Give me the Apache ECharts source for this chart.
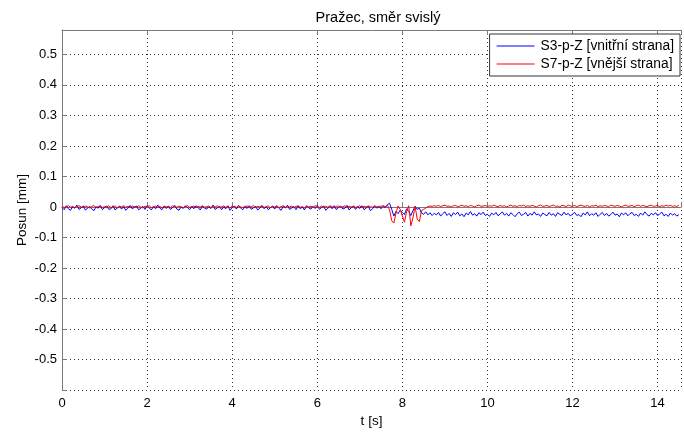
<!DOCTYPE html>
<html>
<head>
<meta charset="utf-8">
<script src="https://cdn.jsdelivr.net/npm/echarts@6/dist/echarts.min.js"></script>
<style>
html,body{margin:0;padding:0;background:#fff;}
#chart{width:684px;height:433px;}
</style>
</head>
<body>
<div id="chart"></div>
<script>
// ---- data (mm), sampled every SAMPLE_STEP_S seconds starting at 0 s ----
const SAMPLE_STEP_S = 0.05;
const titleText = 'Pražec, směr svislý';
const xAxisName = 't [s]';
const yAxisName = 'Posun [mm]';
const seriesNames = ['S3-p-Z [vnitřní strana]', 'S7-p-Z [vnější strana]'];
const xTicks = [0, 2, 4, 6, 8, 10, 12, 14];
const yTicks = [-0.5, -0.4, -0.3, -0.2, -0.1, 0, 0.1, 0.2, 0.3, 0.4, 0.5];

const s3Values = [
 -0.002,-0.009,0.004,-0.006,-0.011,0.001,-0.004,0.006,-0.008,-0.003,
 0.003,-0.010,-0.005,0.002,-0.007,-0.012,0.000,-0.004,0.005,-0.009,
 -0.002,0.003,-0.008,-0.006,0.004,-0.010,-0.003,0.002,-0.007,0.001,
 -0.011,-0.004,0.005,-0.006,-0.001,0.003,-0.009,-0.005,0.002,-0.008,
 0.004,-0.003,-0.010,0.001,-0.006,0.006,-0.004,-0.009,0.002,-0.005,
 0.003,-0.008,-0.002,0.005,-0.007,-0.011,0.000,-0.005,0.004,-0.003,
 -0.009,0.002,-0.006,0.004,-0.002,-0.010,0.003,-0.004,-0.007,0.001,
 -0.005,0.006,-0.008,-0.003,0.002,-0.009,0.000,-0.006,0.004,-0.011,
 -0.002,0.003,-0.007,0.005,-0.004,-0.009,0.001,-0.005,0.004,-0.008,
 -0.003,0.002,-0.010,-0.004,0.005,-0.006,0.001,-0.009,-0.002,0.003,
 -0.007,0.004,-0.005,-0.011,0.002,-0.003,0.006,-0.008,-0.004,0.001,
 -0.009,0.003,-0.006,0.000,-0.010,0.004,-0.003,-0.007,0.002,-0.005,
 0.005,-0.008,-0.002,0.003,-0.011,-0.004,0.002,-0.006,0.004,-0.009,
 -0.001,0.003,-0.007,-0.004,0.005,-0.010,-0.002,0.002,-0.008,0.001,
 -0.005,0.004,-0.009,-0.003,0.002,-0.012,-0.006,0.003,-0.004,0.001,
 -0.006,0.003,-0.002,0.008,0.012,-0.008,-0.030,-0.015,-0.022,-0.010,
 -0.018,-0.025,-0.006,-0.015,-0.028,-0.012,0.002,-0.008,-0.004,-0.020,
 -0.024,-0.016,-0.026,-0.019,-0.028,-0.021,
 -0.026,-0.018,-0.030,-0.022,-0.016,-0.028,-0.021,-0.031,-0.019,-0.025,
 -0.017,-0.029,-0.023,-0.032,-0.020,-0.026,-0.015,-0.027,-0.022,-0.030,
 -0.019,-0.025,-0.017,-0.028,-0.024,-0.031,-0.020,-0.026,-0.018,-0.029,
 -0.023,-0.016,-0.027,-0.021,-0.030,-0.019,-0.025,-0.032,-0.022,-0.017,
 -0.028,-0.024,-0.018,-0.030,-0.021,-0.027,-0.016,-0.026,-0.023,-0.031,
 -0.020,-0.025,-0.029,-0.018,-0.027,-0.022,-0.031,-0.019,-0.024,-0.028,
 -0.017,-0.026,-0.021,-0.030,-0.023,-0.018,-0.028,-0.025,-0.032,-0.020,
 -0.026,-0.016,-0.029,-0.022,-0.027,-0.019,-0.031,-0.024,-0.018,-0.028,
 -0.021,-0.030,-0.025,-0.017,-0.027,-0.023,-0.032,-0.020,-0.026,-0.019,
 -0.029,-0.022,-0.018,-0.028,-0.024,-0.031,-0.020,-0.027,-0.016,-0.025,
 -0.030,-0.021,-0.026,-0.019,-0.028,-0.023,-0.017,-0.029,-0.024,-0.031,
 -0.020,-0.027,-0.022,-0.030,-0.025
];

const s7Values = [
 0.003,-0.002,0.001,0.004,-0.001,0.002,-0.003,0.001,0.004,0.000,
 -0.002,0.003,0.001,-0.003,0.002,0.004,-0.001,0.001,0.003,-0.002,
 0.002,0.000,0.004,-0.002,0.001,0.003,-0.003,0.002,0.000,0.004,
 -0.001,0.002,-0.002,0.003,0.001,-0.001,0.004,0.000,-0.003,0.002,
 0.001,0.004,-0.002,0.001,0.003,-0.001,0.002,-0.003,0.003,0.000,
 0.002,-0.002,0.004,0.001,-0.001,0.003,0.000,-0.002,0.002,0.004,
 -0.001,0.001,0.003,-0.003,0.002,0.000,0.004,-0.001,0.001,0.003,
 -0.002,0.002,0.000,0.004,-0.002,0.001,0.003,-0.001,0.002,-0.003,
 0.003,0.001,-0.001,0.004,0.000,-0.002,0.002,0.003,-0.001,0.001,
 0.004,-0.002,0.002,0.000,0.003,-0.001,0.001,0.004,-0.003,0.002,
 0.000,0.003,-0.002,0.001,0.004,-0.001,0.002,0.000,0.003,-0.002,
 0.002,0.004,-0.001,0.001,-0.003,0.003,0.000,0.002,-0.001,0.004,
 0.001,-0.002,0.003,0.000,0.002,-0.001,0.004,0.001,-0.003,0.002,
 0.003,-0.001,0.001,0.004,-0.002,0.002,0.000,0.003,-0.001,0.001,
 0.004,-0.002,0.002,0.000,0.003,0.001,-0.001,0.004,0.000,0.002,
 0.002,0.004,0.001,0.005,-0.010,-0.045,-0.053,-0.020,0.003,-0.008,
 -0.030,-0.050,-0.015,0.004,-0.062,-0.035,0.002,-0.040,-0.048,-0.012,
 -0.008,-0.004,0.001,0.003,0.002,0.004,
 0.002,0.005,0.001,0.004,0.006,0.002,0.003,0.000,0.004,0.005,
 0.001,0.003,0.006,0.002,0.004,0.001,0.005,0.003,0.000,0.004,
 0.006,0.002,0.003,0.005,0.001,0.004,0.002,0.006,0.003,0.001,
 0.005,0.002,0.004,0.000,0.003,0.006,0.002,0.004,0.001,0.005,
 0.003,0.006,0.001,0.004,0.002,0.005,0.003,0.000,0.004,0.006,
 0.002,0.003,0.005,0.001,0.004,0.006,0.002,0.003,0.000,0.005,
 0.004,0.001,0.006,0.003,0.002,0.005,0.001,0.004,0.006,0.003,
 0.002,0.005,0.000,0.004,0.003,0.006,0.001,0.004,0.002,0.005,
 0.003,0.001,0.006,0.004,0.002,0.005,0.003,0.000,0.004,0.006,
 0.002,0.003,0.005,0.001,0.004,0.006,0.002,0.005,0.003,0.001,
 0.004,0.006,0.002,0.003,0.005,0.001,0.004,0.002,0.006,0.003,
 0.005,0.002,0.004,0.001,0.006
];

// ---- build pairs ----
function toPairs(values){
  return values.map((v, i) => [Math.round(i * SAMPLE_STEP_S * 100) / 100, v]);
}

const FONT = 'Liberation Sans, Arial, Helvetica, sans-serif';
const chart = echarts.init(document.getElementById('chart'), null, {renderer: 'canvas'});

const fmtY = v => {
  const r = Math.round(v * 10) / 10;
  if (Math.abs(v - r) > 1e-6) return '';
  return yTicks.some(t => Math.abs(t - r) < 1e-6) ? String(r) : '';
};
const fmtX = v => xTicks.some(t => Math.abs(t - v) < 1e-6) ? String(v) : '';

const axisLine = {show: true, lineStyle: {color: '#7a7a7a', width: 1}};
const gridLine = {show: true, lineStyle: {color: '#333', width: 1, type: [1, 3]}};

chart.setOption({
  animation: false,
  backgroundColor: '#fff',
  textStyle: {fontFamily: FONT},
  title: {
    text: titleText,
    left: 373, top: 5, textAlign: 'center',
    textStyle: {fontFamily: FONT, fontSize: 14.5, fontWeight: 'normal', color: '#000'}
  },
  legend: {
    orient: 'vertical',
    right: 4, top: 34,
    backgroundColor: '#fff',
    borderColor: '#333', borderWidth: 1, borderRadius: 0,
    padding: [5, 6, 5, 7],
    itemWidth: 38, itemHeight: 1, itemGap: 4, itemStyle: {borderWidth: 0},
    icon: 'rect',
    textStyle: {fontFamily: FONT, fontSize: 13.8, color: '#000', padding: [0, 0, 0, 1]},
    data: seriesNames
  },
  grid: {left: 62, right: 0, top: 30, bottom: 42, containLabel: false},
  xAxis: [{
    type: 'value', min: 0, max: 14.55, interval: 2,
    name: xAxisName, nameLocation: 'middle', nameGap: 24, nameMoveOverlap: false,
    nameTextStyle: {fontFamily: FONT, fontSize: 13.5, color: '#000'},
    axisLine: axisLine,
    axisTick: {show: true, inside: true, length: 5, lineStyle: {color: '#7a7a7a'}},
    axisLabel: {formatter: fmtX, fontFamily: FONT, fontSize: 13, color: '#000', margin: 7},
    splitLine: gridLine
  }, {
    type: 'value', min: 0, max: 14.55, interval: 2, position: 'top',
    axisLine: axisLine,
    axisTick: {show: true, inside: true, length: 5, lineStyle: {color: '#7a7a7a'}},
    axisLabel: {show: false}, splitLine: {show: false}
  }],
  yAxis: [{
    type: 'value', min: -0.6, max: 0.58, interval: 0.1,
    name: yAxisName, nameLocation: 'middle', nameGap: 33, nameRotate: 90, nameMoveOverlap: false,
    nameTextStyle: {fontFamily: FONT, fontSize: 13.5, color: '#000'},
    axisLine: axisLine,
    axisTick: {show: true, inside: true, length: 5, lineStyle: {color: '#7a7a7a'}},
    axisLabel: {formatter: fmtY, fontFamily: FONT, fontSize: 13, color: '#000', margin: 5},
    splitLine: gridLine
  }],
  series: [{
    name: seriesNames[0], type: 'line', data: toPairs(s3Values),
    showSymbol: false, symbol: 'none', lineStyle: {color: '#0000ff', width: 1}, itemStyle: {color: '#0000ff'},
    z: 3
  }, {
    name: seriesNames[1], type: 'line', data: toPairs(s7Values),
    showSymbol: false, symbol: 'none', lineStyle: {color: '#ff0000', width: 1}, itemStyle: {color: '#ff0000'},
    z: 4
  }]
});
</script>
</body>
</html>
